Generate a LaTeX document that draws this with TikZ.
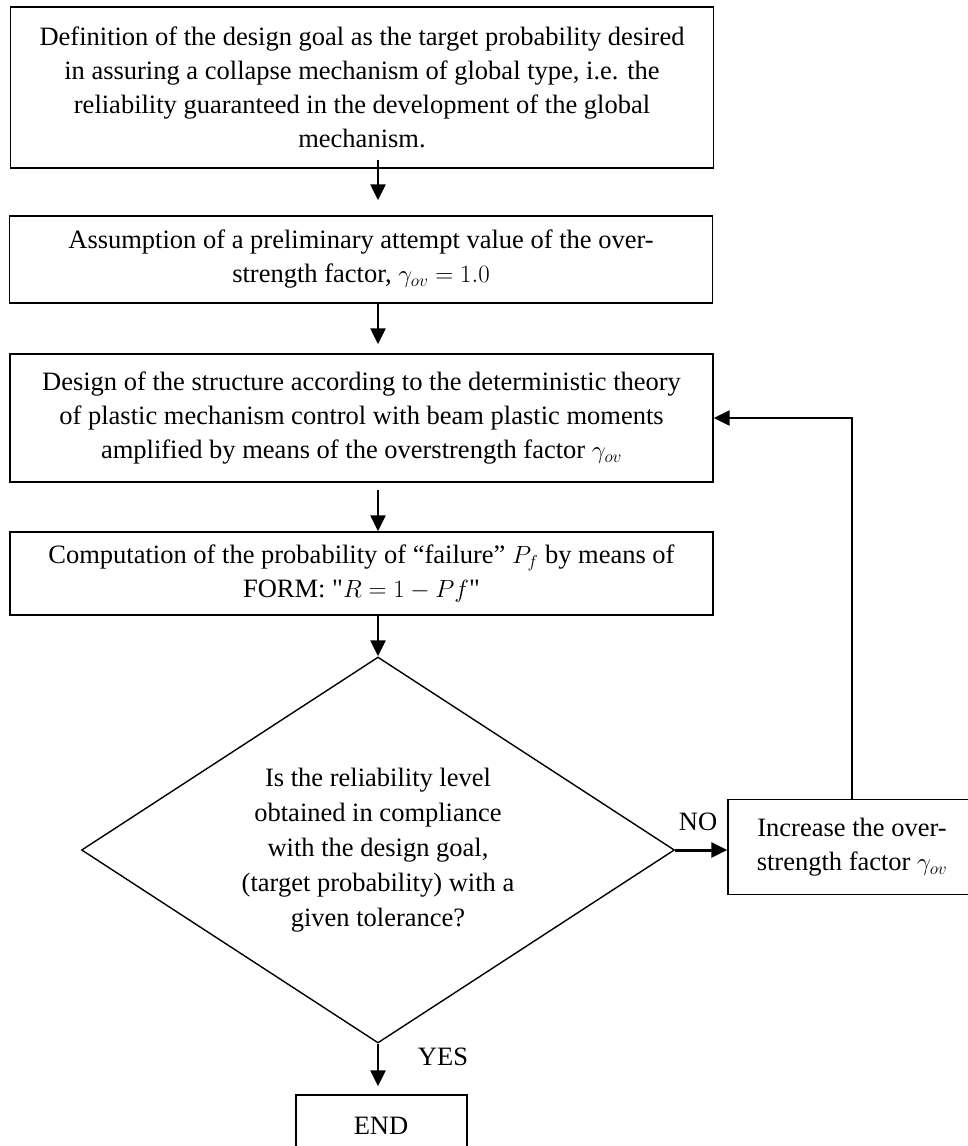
\documentclass[tikz,border=0pt]{standalone}
\usepackage{fontspec}
\setmainfont{Liberation Serif}[Ligatures=TeXOff]
\usepackage{mathtools}
\usetikzlibrary{shapes.geometric,arrows.meta}

\begin{document}
\begin{tikzpicture}[x=1pt,y=-1pt]
  \tikzstyle{every node}=[font=\fontsize{26.5}{34}\selectfont]
  \tikzstyle{stepbox}=[draw, rectangle, line width=1.4pt, align=center, inner sep=0pt, minimum width=703pt]
  \tikzstyle{flow}=[line width=2.4pt, -{Triangle[length=16pt,width=15pt]}]
  \useasboundingbox (0,0) rectangle (968,1146);
  \clip (0,0) rectangle (968,1146);

  % main column
  \node[stepbox, minimum height=161pt] (Goal) at (362,87.5)
    {Definition of the design goal as the target probability desired\\
     in assuring a collapse mechanism of global type, i.e. the\\
     reliability guaranteed in the development of the global\\
     mechanism.};
  \node[stepbox, minimum height=87pt] (Guess) at (361,259.5)
    {Assumption of a preliminary attempt value of the over-\\
     strength factor, $\gamma_{ov} = 1.0$};
  \node[stepbox, minimum height=128pt] (Design) at (361.5,418)
    {Design of the structure according to the deterministic theory\\
     of plastic mechanism control with beam plastic moments\\
     amplified by means of the overstrength factor $\gamma_{ov}$};
  \node[stepbox, minimum height=83pt] (Form) at (361.5,573.5)
    {Computation of  the probability of “failure” $P_f$ by means of\\
     FORM: "$R = 1 - Pf$"};
  \node[draw, diamond, line width=1.4pt, inner sep=0pt,
        minimum width=593pt, minimum height=386pt] (Check) at (378,850) {};
  \node[align=center, font=\fontsize{26.5}{35}\selectfont] (CheckText) at (Check.center)
    {Is the reliability level\\
     obtained in compliance\\
     with the design goal,\\
     (target probability) with a\\
     given tolerance?};
  \node[stepbox, minimum width=171pt, minimum height=124pt] (End) at (381.5,1157) {};
  \node at (381,1126) {END};

  % side branch
  \node[stepbox, minimum width=248pt, minimum height=95pt] (Raise) at (852,847)
    {Increase the over-\\
     strength factor $\gamma_{ov}$};
  \node (No) at (698,822) {NO};
  \node (Yes) at (443,1057) {YES};

  \coordinate (Spine) at (378,0);
  \draw[flow, shorten <=-9pt, shorten >=15pt] (Goal.south -| Spine) -- (Guess.north -| Spine);
  \draw[flow, shorten >=9pt] (Guess.south -| Spine) -- (Design.north -| Spine);
  \draw[flow, shorten <=7pt] (Design.south -| Spine) -- (Form.north -| Spine);
  \draw[flow] (Form.south -| Spine) -- (Check.north);
  \draw[flow, shorten >=8pt] (Check.south) -- (End.north -| Spine);
  \draw[flow, line width=3pt] (Check.east) -- (Raise.west |- Check.east);
  \draw[flow] (Raise.north) -- (Raise.north |- Design.east) -- (Design.east);
\end{tikzpicture}
\end{document}
